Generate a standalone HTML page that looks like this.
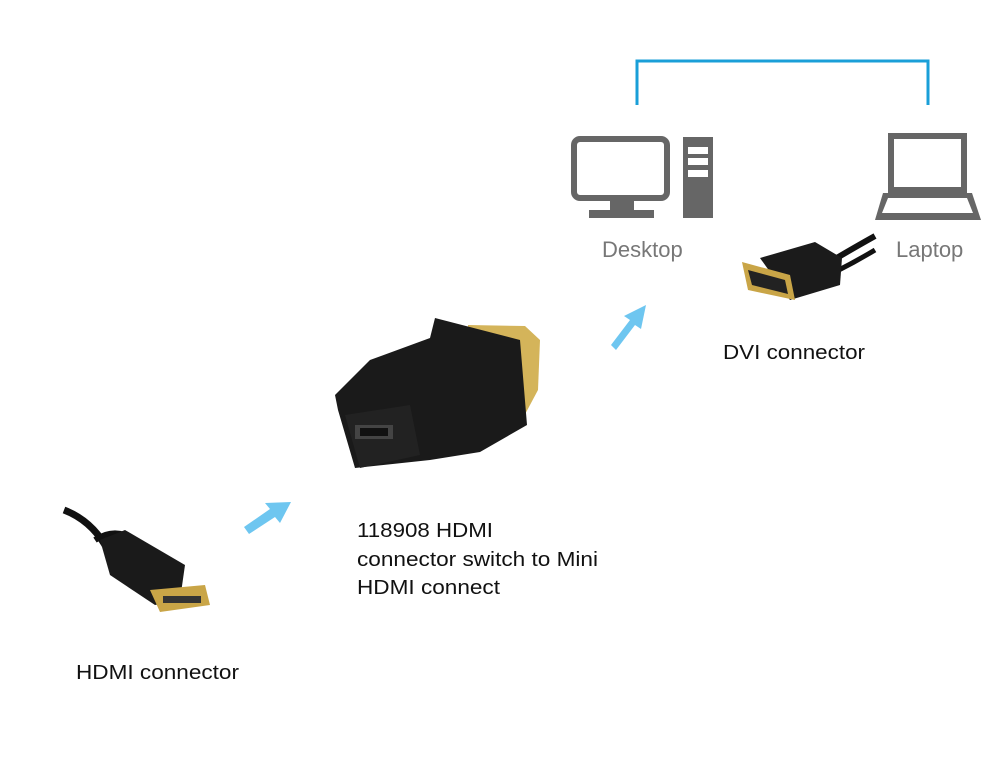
<!DOCTYPE html>
<html><head><style>
body{margin:0;background:#fff;}
svg{display:block;}
text{font-family:"Liberation Sans",Arial,sans-serif;}
</style></head><body>
<svg width="1000" height="774" viewBox="0 0 1000 774" xmlns="http://www.w3.org/2000/svg">
<rect width="1000" height="774" fill="#fff"/>
<polyline points="637,105 637,61 928,61 928,105" fill="none" stroke="#1a9fd8" stroke-width="3"/>
<rect x="574" y="139" width="93" height="59" rx="6" fill="none" stroke="#666" stroke-width="6"/>
<rect x="610" y="200" width="24" height="10" fill="#666"/>
<rect x="589" y="210" width="65" height="8" fill="#666"/>
<rect x="683" y="137" width="30" height="81" fill="#666"/>
<rect x="688" y="147" width="20" height="7" fill="#fff"/>
<rect x="688" y="158" width="20" height="7" fill="#fff"/>
<rect x="688" y="170" width="20" height="7" fill="#fff"/>
<rect x="891" y="136" width="73" height="54" fill="none" stroke="#666" stroke-width="6"/>
<polygon points="883,193 972,193 981,220 875,220" fill="#666"/>
<polygon points="888,198 967,198 973,213 882,213" fill="#fff"/>
<text x="602" y="257" font-size="22" fill="#777">Desktop</text>
<text x="896" y="257" font-size="22" fill="#777">Laptop</text>
<!-- DVI connector -->
<path d="M830,262 Q850,250 875,236" stroke="#111" stroke-width="6" fill="none"/>
<path d="M835,272 Q855,262 875,250" stroke="#111" stroke-width="5" fill="none"/>
<polygon points="760,258 815,242 842,258 840,285 790,300" fill="#1b1b1b"/>
<polygon points="742,262 790,275 795,300 748,290" fill="#c9a547"/>
<polygon points="748,270 785,280 788,294 752,285" fill="#222"/>
<text x="723" y="359" font-size="20" fill="#111" textLength="142" lengthAdjust="spacingAndGlyphs">DVI connector</text>
<g fill="#6ec6f0">
<polygon points="611,345 630,320 624,316 646,305 641,329 635,325 616,350"/>
<polygon points="244,527 270,509 265,503 291,502 280,523 275,517 249,534"/>
</g>
<!-- adapter -->
<polygon points="468,325 525,326 540,340 538,390 522,420 495,420 470,400" fill="#d4b45a"/>
<polygon points="435,318 520,340 527,425 480,452 430,460 355,468 338,410 335,395 370,360 430,338" fill="#1a1a1a"/>
<polygon points="345,415 410,405 420,455 360,468" fill="#222"/>
<rect x="355" y="425" width="38" height="14" fill="#444"/>
<rect x="360" y="428" width="28" height="8" fill="#111"/>
<!-- HDMI connector -->
<path d="M64,510 Q90,520 105,545" stroke="#111" stroke-width="7" fill="none"/>
<path d="M95,540 Q110,530 125,535" stroke="#111" stroke-width="6" fill="none"/>
<polygon points="100,540 125,530 185,565 180,600 155,605 110,575" fill="#1a1a1a"/>
<polygon points="150,590 205,585 210,605 160,612" fill="#c9a547"/>
<rect x="163" y="596" width="38" height="7" fill="#333"/>
<text x="357" y="537" font-size="20" fill="#111" textLength="136" lengthAdjust="spacingAndGlyphs">118908 HDMI</text>
<text x="357" y="566" font-size="20" fill="#111" textLength="241" lengthAdjust="spacingAndGlyphs">connector switch to Mini</text>
<text x="357" y="594" font-size="20" fill="#111" textLength="143" lengthAdjust="spacingAndGlyphs">HDMI connect</text>
<text x="76" y="679" font-size="20" fill="#111" textLength="163" lengthAdjust="spacingAndGlyphs">HDMI connector</text>
</svg>
</body></html>
